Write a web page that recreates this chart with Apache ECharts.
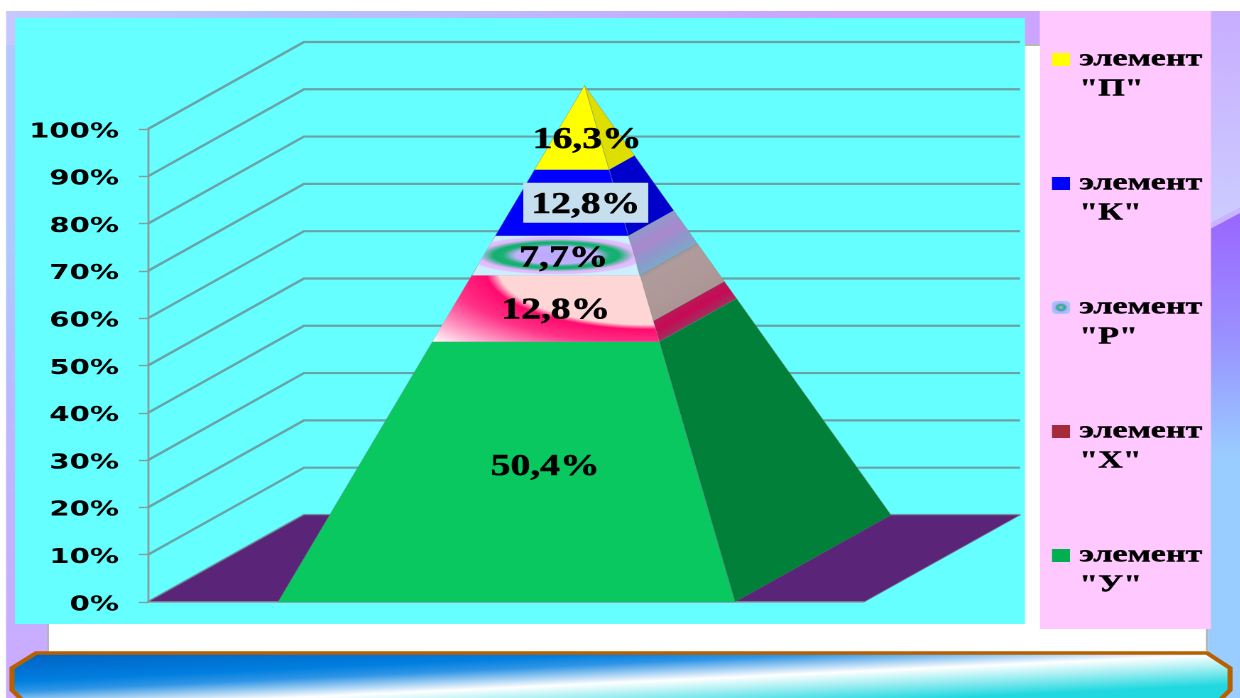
<!DOCTYPE html>
<html>
<head>
<meta charset="utf-8">
<title>Pyramid</title>
<style>
html,body{margin:0;padding:0;background:#fff;overflow:hidden;width:1240px;height:698px}
#main{height:698px;transform-origin:0 0}
</style>
<script src="https://cdn.jsdelivr.net/npm/echarts@6/dist/echarts.min.js"></script>
</head>
<body>
<div id="main"></div>
<script>
// ---------- data ----------
var elementNames = ['элемент "У"', 'элемент "Х"', 'элемент "Р"', 'элемент "К"', 'элемент "П"'];
var elementValues = [50.4, 12.8, 7.7, 12.8, 16.3];
var valueLabels = ['50,4%', '12,8%', '7,7%', '12,8%', '16,3%'];
var legendOrder = ['элемент "П"', 'элемент "К"', 'элемент "Р"', 'элемент "Х"', 'элемент "У"'];
var axisTicks = [0, 10, 20, 30, 40, 50, 60, 70, 80, 90, 100];

// ---------- style ----------
var S = 1.42;                     // the whole picture is stretched sideways
var X = function (px) { return px / S; };
var FRONT = ['#08C85F', '#FFFFFF', '#CCEEFF', '#0000FF', '#FFFF00'];
var SIDE = ['#018039', '#AE9898', '#9A94CC', '#0000CC', '#DEDE00'];
var LEGEND_COLOR = ['#FFFF00', '#0000FF', null, '#A52A3A', '#00B050'];
var LABEL_SHIFT = [[19, -5], [5, 2], [5, 3], [19, 2.5], [9, 12.5]];
var SERIF = '"Liberation Serif","Times New Roman",serif';

// ---------- scene geometry in axis units ----------
var FLOOR_W = 716, DEPTH_X = 156, DEPTH_Y = 18.4;
var BASE_L = 130, BASE_R = 587;
var APEX = [(BASE_L + BASE_R) / 2, 0.5, 100];

function project(api, x, d, v) {
  return api.coord([x + d * DEPTH_X, v + d * DEPTH_Y]);
}
function onEdge(api, x, d, v) {       // point of a pyramid edge at level v
  var t = v / 100;
  return project(api, x + (APEX[0] - x) * t, d + (APEX[1] - d) * t, v);
}
function poly(points, fill, z2) {
  return { type: 'polygon', z2: z2 || 1, shape: { points: points },
    style: { fill: fill, stroke: 'rgba(120,130,130,0.55)', lineWidth: 0.5 } };
}
function bandGradient(a, b, c, stops) {   // across a slanted band: a-b lower edge, c above a
  var ex = b[0] - a[0], ey = b[1] - a[1], len = Math.sqrt(ex * ex + ey * ey);
  var nx = -ey / len, ny = ex / len;
  var dot = (c[0] - a[0]) * nx + (c[1] - a[1]) * ny;
  return { type: 'linear', global: true, x: a[0], y: a[1], x2: a[0] + nx * dot, y2: a[1] + ny * dot, colorStops: stops };
}
function stop(o, c) { return { offset: o, color: c }; }
function ellipseOverlay(clipPts, cx, cy, r, k, stops) {
  return {
    type: 'circle', x: cx, y: cy, scaleY: k, z2: 2, silent: true,
    shape: { cx: 0, cy: 0, r: r },
    style: { fill: { type: 'radial', x: 0.5, y: 0.5, r: 0.5, colorStops: stops } },
    clipPath: { type: 'polygon', shape: { points: clipPts.map(function (p) { return [p[0] - cx, (p[1] - cy) / k]; }) } }
  };
}

function renderSegment(i) {
  return function (params, api) {
    var v0 = api.value(1), v1 = v0 + api.value(2);
    var fl0 = onEdge(api, BASE_L, 0, v0), fr0 = onEdge(api, BASE_R, 0, v0), br0 = onEdge(api, BASE_R, 1, v0);
    var fl1 = onEdge(api, BASE_L, 0, v1), fr1 = onEdge(api, BASE_R, 0, v1), br1 = onEdge(api, BASE_R, 1, v1);
    var frontPts = [fl0, fr0, fr1, fl1];
    var children = [];
    var boxW = fr0[0] - fl0[0], boxH = fl0[1] - fl1[1];

    if (i === 1) {            // lower part of the side is a darker stripe
      var mid = v0 + (v1 - v0) * 0.31;
      var frm = onEdge(api, BASE_R, 0, mid), brm = onEdge(api, BASE_R, 1, mid);
      children.push(poly([frm, brm, br1, fr1], bandGradient(frm, brm, fr1, [stop(0, '#AD9595'), stop(0.9, '#B09C9C'), stop(1, '#A89494')])));
      children.push(poly([fr0, br0, brm, frm], bandGradient(fr0, br0, frm, [stop(0, '#A03060'), stop(0.55, '#C80A55'), stop(1, '#B81A55')])));
    } else if (i === 2) {
      children.push(poly([fr0, br0, br1, fr1], bandGradient(fr0, br0, fr1, [stop(0, '#7FA8C8'), stop(0.3, '#8E98CC'), stop(0.6, '#AA88CC'), stop(1, '#9199CC')])));
    } else {
      children.push(poly([fr0, br0, br1, fr1], SIDE[i]));
    }
    children.push(poly(frontPts, FRONT[i]));

    if (i === 1) {
      children.push(ellipseOverlay(frontPts, fl0[0] + boxW * 0.956, fl1[1] - boxH * 0.09, boxW * 1.44, 0.52, [
        stop(0, '#FFD6D6'), stop(0.46, '#FFD6D6'), stop(0.5, '#FF0A6E'), stop(0.62, '#FF3388'), stop(0.9, '#FFFFFF'), stop(1, '#FFFFFF')
      ]));
    }
    if (i === 2) {
      children.push(ellipseOverlay(frontPts, fl0[0] + boxW * 0.503, fl1[1] + boxH * 0.49, X(92), 0.3, [
        stop(0, '#B8A8FF'), stop(0.44, '#C4B0FF'), stop(0.58, '#20B078'), stop(0.68, '#10B070'),
        stop(0.85, '#E8B8FF'), stop(0.94, '#DDC0FF'), stop(1, '#CCEEFF')
      ]));
    }

    var mx = (onEdge(api, BASE_L, 0, (v0 + v1) / 2)[0] + onEdge(api, BASE_R, 0, (v0 + v1) / 2)[0]) / 2;
    var my = onEdge(api, BASE_L, 0, (v0 + v1) / 2)[1];
    var lx = mx + X(LABEL_SHIFT[i][0]), ly = my + LABEL_SHIFT[i][1];
    if (i === 3) {
      children.push({ type: 'rect', z2: 9, shape: { x: lx - X(62.5), y: my - 20, width: X(125), height: 40 }, style: { fill: '#C5DFEF' } });
    }
    children.push({ type: 'text', z2: 10, x: lx, y: ly, scaleX: 0.9,
      style: { text: valueLabels[i], font: 'bold 31px ' + SERIF, fill: '#000', stroke: '#000', lineWidth: 0.5, align: 'center', verticalAlign: 'middle' } });
    return { type: 'group', children: children };
  };
}

function renderGridLine(params, api) {
  var v = api.value(1);
  return { type: 'polyline', shape: { points: [project(api, 0, 0, v), project(api, 0, 1, v), project(api, FLOOR_W, 1, v)] },
    style: { stroke: '#6AA3A5', lineWidth: 2.2, fill: null } };
}
function renderFloor(params, api) {
  return { type: 'group', children: [
    { type: 'polygon', shape: { points: [project(api, 0, 0, 0), project(api, FLOOR_W, 0, 0), project(api, FLOOR_W, 1, 0), project(api, 0, 1, 0)] },
      style: { fill: '#5A2478', stroke: 'rgba(120,110,140,0.8)', lineWidth: 0.8 } },
    { type: 'line', shape: { x1: project(api, 0, 0, 0)[0], y1: project(api, 0, 0, 0)[1], x2: project(api, FLOOR_W, 0, 0)[0], y2: project(api, FLOOR_W, 0, 0)[1] },
      style: { stroke: '#8A9A9C', lineWidth: 1.6 } }
  ] };
}

// ---------- backdrop ----------
function rect(x0, y0, x1, y1, fill) {
  return { type: 'rect', z: -10, silent: true, shape: { x: X(x0), y: y0, width: X(x1 - x0), height: y1 - y0 }, style: { fill: fill } };
}
function area(pts, fill) {
  return { type: 'polygon', z: -10, silent: true, shape: { points: pts.map(function (p) { return [X(p[0]), p[1]]; }) }, style: { fill: fill } };
}
function vGrad(stops) { return { type: 'linear', x: 0, y: 0, x2: 0, y2: 1, colorStops: stops }; }
function hGrad(stops) { return { type: 'linear', x: 0, y: 0, x2: 1, y2: 0, colorStops: stops }; }

var backdrop = [
  rect(6, 11, 1040, 45, hGrad([stop(0, '#C8C8FF'), stop(0.25, '#B4C4FF'), stop(0.5, '#BEB8FF'), stop(0.8, '#CCA4FF'), stop(1, '#CCA4FF')])),
  rect(6, 45, 48, 698, vGrad([stop(0, '#B4C8FF'), stop(0.3, '#AECBFF'), stop(0.55, '#BEB8FF'), stop(1, '#CCAAFF')])),
  rect(48, 45, 1207, 651, '#FFFFFF'),
  rect(47, 45, 49, 651, '#B4B4C0'),
  rect(1206, 629, 1208, 651, '#B0B0B0'),
  rect(1025, 44, 1040, 46, '#B8B8B8'),
  area([[1208, 11], [1240, 11], [1240, 207], [1208, 224]], vGrad([stop(0, '#C9AEFF'), stop(1, '#CCCCFF')])),
  area([[1208, 224], [1240, 207], [1240, 213], [1208, 230]], '#C8B4FF'),
  area([[1208, 230], [1240, 213], [1240, 698], [1208, 698]], vGrad([stop(0, '#9A66FF'), stop(0.25, '#9A90FF'), stop(0.5, '#99CCFF'), stop(1, '#99CCFF')])),
  rect(15, 18, 1025, 624, '#66FFFF'),
  rect(1040, 11, 1211, 629, '#FFC8FF'),
  area([[12, 668], [36, 653], [1207, 653], [1230, 668], [1230, 690], [1220, 700], [22, 700], [12, 690]], {
    type: 'linear', x: 0, y: 0, x2: 0.00776, y2: 2,
    colorStops: [stop(0, '#0060C0'), stop(0.3, '#007FE0'), stop(0.4, '#2F95E6'), stop(0.587, '#FFFFFF'), stop(0.89, '#22D8E0'), stop(1, '#22D8E0')]
  })
];
backdrop[backdrop.length - 1].style.stroke = '#B86000';
backdrop[backdrop.length - 1].style.lineWidth = 3.6;

// ---------- chart ----------
var el = document.getElementById('main');
el.style.width = (1240 / S) + 'px';
el.style.transform = 'scaleX(' + S + ')';
var chart = echarts.init(el, null, { renderer: 'canvas', devicePixelRatio: 2 });

var start = 0;
var segmentSeries = elementNames.map(function (name, i) {
  var s = {
    type: 'custom', name: name, coordinateSystem: 'cartesian2d', z: 5, silent: true,
    itemStyle: { color: FRONT[i] },
    renderItem: renderSegment(i),
    encode: { x: 0, y: 1 },
    data: [[0, start, elementValues[i]]]
  };
  start += elementValues[i];
  return s;
});

chart.setOption({
  animation: false,
  backgroundColor: '#FFFFFF',
  graphic: backdrop,
  grid: { left: X(148), width: X(FLOOR_W + DEPTH_X), top: 129, height: 473, containLabel: false },
  xAxis: { type: 'value', min: 0, max: FLOOR_W + DEPTH_X, show: false },
  yAxis: {
    type: 'value', min: 0, max: 100, interval: 10, position: 'left',
    axisLine: { show: true, onZero: false, lineStyle: { color: '#8C9A9C', width: 1.4 } },
    axisTick: { show: true, length: X(9), lineStyle: { color: '#8C9A9C', width: 1.4 } },
    splitLine: { show: false },
    axisLabel: { formatter: '{a|{value}%}', margin: X(29),
      rich: { a: { color: '#000', fontFamily: '"DejaVu Sans"', fontWeight: 'bold', fontSize: 20.5, padding: [6, 0, 0, 0] } } }
  },
  legend: {
    orient: 'vertical', left: X(1052), top: 11, padding: 0, itemGap: 27, itemWidth: X(18), itemHeight: 13, selectedMode: false,
    textStyle: { fontFamily: SERIF, fontWeight: 'bold', fontSize: 24, color: '#000', lineHeight: 30, padding: [7, 0, 0, 1.5], textBorderColor: '#000', textBorderWidth: 0.4 },
    formatter: function (name) { return ' \n' + name.replace(' ', '\n'); },
    data: legendOrder.map(function (name, i) {
      var color = LEGEND_COLOR[i] || { type: 'radial', x: 0.5, y: 0.5, r: 0.5, colorStops: [stop(0, '#B8A8FF'), stop(0.45, '#20B080'), stop(0.7, '#C0A8FF'), stop(1, '#A0C8FF')] };
      return { name: name, icon: LEGEND_COLOR[i] ? 'rect' : 'roundRect', itemStyle: { color: color } };
    })
  },
  series: [
    { type: 'custom', name: 'grid', coordinateSystem: 'cartesian2d', z: 1, silent: true, renderItem: renderGridLine, encode: { x: 0, y: 1 },
      data: axisTicks.map(function (t) { return [0, t]; }) },
    { type: 'custom', name: 'floor', coordinateSystem: 'cartesian2d', z: 2, silent: true, renderItem: renderFloor, encode: { x: 0, y: 1 }, data: [[0, 0]] }
  ].concat(segmentSeries)
});
</script>
</body>
</html>
